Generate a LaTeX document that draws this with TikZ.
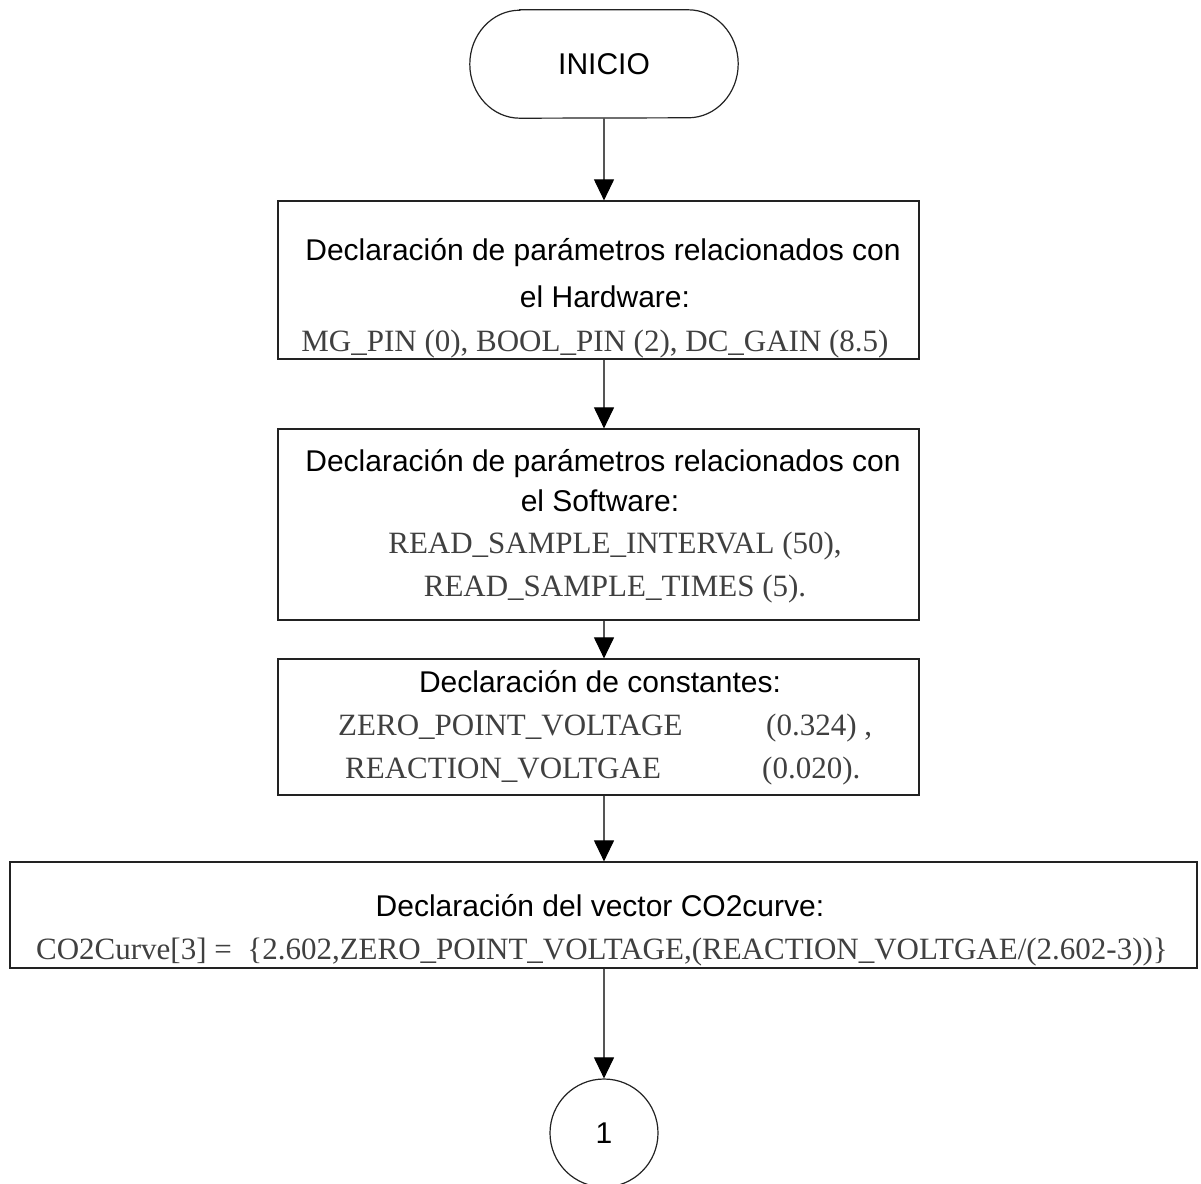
\documentclass[tikz,border=0pt]{standalone}
\usepackage{fontspec}
\setmainfont{Liberation Serif}
\newfontfamily\labelsans{Liberation Sans}
\usetikzlibrary{arrows.meta}
\definecolor{codegray}{HTML}{404040}
\definecolor{edgecol}{HTML}{222222}
\definecolor{stemcol}{HTML}{555555}
\tikzset{
  box/.style={draw=edgecol, line width=1.2pt, inner sep=0pt},
  sanstext/.style={font=\labelsans\fontsize{30}{36}\selectfont, text=black},
  head/.style={sanstext, inner sep=0pt, anchor=base},
  code/.style={font=\fontsize{31}{36}\selectfont, text=codegray, inner sep=0pt, anchor=base},
  codew/.style={code, anchor=base west},
  flow/.style={draw=stemcol, line width=1.1pt, -{Triangle[length=21pt,width=20pt,color=black]}},
}
\begin{document}
\begin{tikzpicture}[x=1pt,y=-1pt]
\useasboundingbox (0,0) rectangle (1201,1183);

% start terminal
\node[sanstext, inner sep=0pt, minimum width=268pt, minimum height=108pt] (start) at (604,64) {INICIO};
\draw[edgecol, line width=1.2pt]
  ([xshift=50pt]start.north west) -- ([xshift=-50pt]start.north east)
  arc[start angle=90, end angle=-90, x radius=50pt, y radius=54pt]
  -- ([xshift=50pt]start.south west)
  arc[start angle=270, end angle=90, x radius=50pt, y radius=54pt] -- cycle;

% process boxes
\node[box, minimum width=641pt, minimum height=158pt] (hw) at (598.5,280) {};
\node[box, minimum width=641pt, minimum height=191pt] (sw) at (598.5,524.5) {};
\node[box, minimum width=641pt, minimum height=136pt] (cst) at (598.5,727) {};
\node[box, minimum width=1187pt, minimum height=106pt] (vec) at (603.5,915) {};

% off-page connector
\node[box, sanstext, circle, minimum size=108pt] (conn) at (604,1133) {1};

% box texts
\node[head] (hw1) at (603,260) {Declaración de parámetros relacionados con};
\node[head] (hw2) at (605,307) {el Hardware:};
\node[code] (hw3) at (595,351) {MG\_PIN (0), BOOL\_PIN (2), DC\_GAIN (8.5)};

\node[head] (sw1) at (603,471) {Declaración de parámetros relacionados con};
\node[head] (sw2) at (600,511) {el Software:};
\node[code] (sw3) at (615,553) {READ\_SAMPLE\_INTERVAL (50),};
\node[code] (sw4) at (615,596) {READ\_SAMPLE\_TIMES (5).};

\node[head] (cs1) at (600,692) {Declaración de constantes:};
\node[codew] (cs2a) at (338,735) {ZERO\_POINT\_VOLTAGE};
\node[codew] (cs2b) at (766,735) {(0.324) ,};
\node[codew] (cs3a) at (345,778) {REACTION\_VOLTGAE};
\node[codew] (cs3b) at (762,778) {(0.020).};

\node[head] (vc1) at (600,916) {Declaración del vector CO2curve:};
\node[code] (vc2) at (602,959) {CO2Curve[3] =\ \ \{2.602,ZERO\_POINT\_VOLTAGE,(REACTION\_VOLTGAE/(2.602-3))\}};

% connectors
\draw[flow] (start.south) -- (start.south |- hw.north);
\draw[flow] (start.south |- hw.south) -- (start.south |- sw.north);
\draw[flow] (start.south |- sw.south) -- (start.south |- cst.north);
\draw[flow] (start.south |- cst.south) -- (vec.north -| start.south);
\draw[flow] (vec.south -| conn.north) -- (conn.north);
\end{tikzpicture}
\end{document}
